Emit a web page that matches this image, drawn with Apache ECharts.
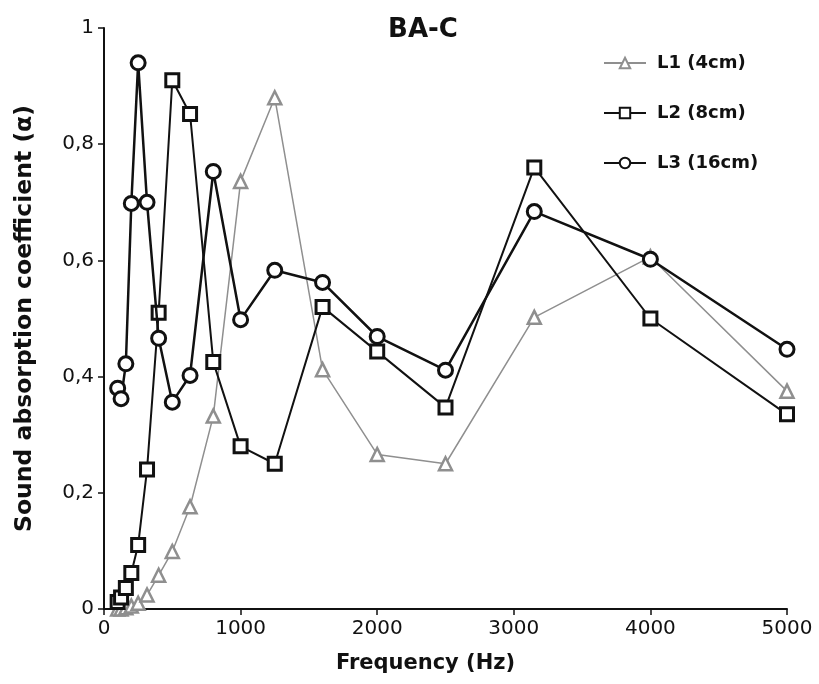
<!DOCTYPE html>
<html>
<head>
<meta charset="utf-8">
<script src="https://cdn.jsdelivr.net/npm/echarts@6/dist/echarts.min.js"></script>
<style>html,body{margin:0;padding:0;background:#fff;}#c{width:819px;height:684px;}</style>
</head>
<body>
<div id="c"></div>
<script>
const frequencies = [100,125,160,200,250,315,400,500,630,800,1000,1250,1600,2000,2500,3150,4000,5000];
const L1 = [0.0,0.0,0.002,0.005,0.01,0.024,0.058,0.099,0.176,0.332,0.736,0.88,0.412,0.266,0.25,0.502,0.606,0.375];
const L2 = [0.012,0.02,0.036,0.062,0.11,0.24,0.51,0.91,0.852,0.425,0.28,0.25,0.52,0.443,0.347,0.76,0.50,0.335];
const L3 = [0.38,0.362,0.422,0.698,0.94,0.70,0.466,0.356,0.402,0.753,0.498,0.583,0.562,0.469,0.411,0.684,0.602,0.447];
const seriesNames = ['L1 (4cm)','L2 (8cm)','L3 (16cm)'];
const xTicks = [0,1000,2000,3000,4000,5000];
const yTicks = [0,0.2,0.4,0.6,0.8,1];

const pair = arr => frequencies.map((f,i)=>[f,arr[i]]);
const font = 'DejaVu Sans';
const chart = echarts.init(document.getElementById('c'), null, {renderer:'canvas'});
chart.setOption({
  animation:false,
  backgroundColor:'#fff',
  title:{text:'BA-C', left:418, top:12, textAlign:'center',
    textStyle:{fontFamily:font, fontWeight:'bold', fontSize:26, color:'#111'}},
  legend:{orient:'vertical', left:598, top:49, itemWidth:42, itemHeight:13, itemGap:32,
    data:seriesNames,
    textStyle:{fontFamily:font, fontWeight:'bold', fontSize:18, color:'#111', padding:[0,0,0,6]}},
  grid:{left:104, right:32, top:28, bottom:75, containLabel:false},
  xAxis:{type:'value', min:0, max:5000, interval:1000,
    name:'Frequency (Hz)', nameLocation:'middle', nameGap:44,
    nameTextStyle:{fontFamily:font, fontWeight:'bold', fontSize:21, color:'#111', padding:[0,40,0,0]},
    axisLine:{lineStyle:{color:'#111', width:2}},
    axisTick:{length:6, lineStyle:{color:'#111', width:1.5}},
    axisLabel:{fontFamily:font, fontSize:20, color:'#111', margin:10,
      formatter: v => xTicks.includes(v) ? String(v) : ''},
    splitLine:{show:false}},
  yAxis:{type:'value', min:0, max:1, interval:0.2,
    name:'Sound absorption coefficient (\u03b1)', nameLocation:'middle', nameGap:67,
    nameTextStyle:{fontFamily:font, fontWeight:'bold', fontSize:23.5, color:'#111'},
    axisLine:{show:true, lineStyle:{color:'#111', width:2}},
    axisTick:{show:true, length:6, lineStyle:{color:'#111', width:1.5}},
    axisLabel:{fontFamily:font, fontSize:20, color:'#111', margin:10,
      formatter: v => { const t = yTicks.find(y=>Math.abs(y-v)<1e-9); if(t===undefined) return ''; return (t===0||t===1)?String(t):t.toFixed(1).replace('.',','); }},
    splitLine:{show:false}},
  series:[
    {name:seriesNames[0], type:'line', data:pair(L1), symbol:'triangle', symbolSize:13,
      lineStyle:{color:'#8f8f8f', width:1.5}, itemStyle:{color:'#fff', borderColor:'#8f8f8f', borderWidth:2.5}, z:2},
    {name:seriesNames[1], type:'line', data:pair(L2), symbol:'rect', symbolSize:13,
      lineStyle:{color:'#111', width:2}, itemStyle:{color:'#fff', borderColor:'#111', borderWidth:3}, z:3},
    {name:seriesNames[2], type:'line', data:pair(L3), symbol:'circle', symbolSize:14,
      lineStyle:{color:'#111', width:2.5}, itemStyle:{color:'#fff', borderColor:'#111', borderWidth:3}, z:4}
  ]
});
</script>
</body>
</html>
